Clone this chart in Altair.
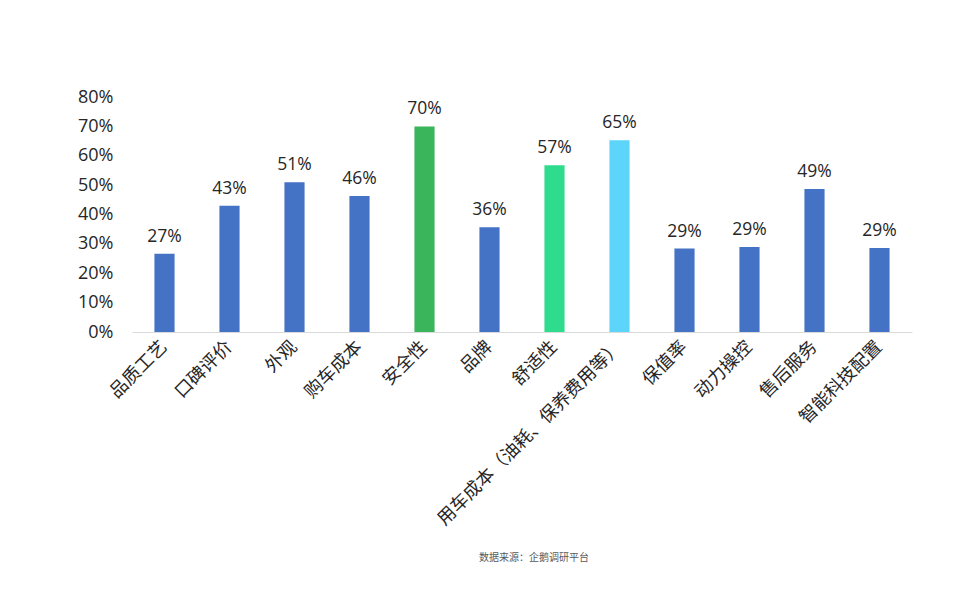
import altair as alt
import pandas as pd

categories = ["品质工艺", "口碑评价", "外观", "购车成本", "安全性", "品牌", "舒适性",
              "用车成本（油耗、保养费用等）", "保值率", "动力操控", "售后服务", "智能科技配置"]
values = [0.266, 0.430, 0.510, 0.463, 0.700, 0.357, 0.568, 0.653, 0.284, 0.289, 0.487, 0.286]
labels = ["27%", "43%", "51%", "46%", "70%", "36%", "57%", "65%", "29%", "29%", "49%", "29%"]
colors = ["#4472C4", "#4472C4", "#4472C4", "#4472C4", "#3BB55B", "#4472C4", "#2FDC8E",
          "#5DD5FA", "#4472C4", "#4472C4", "#4472C4", "#4472C4"]
y_ticks = [0, 0.1, 0.2, 0.3, 0.4, 0.5, 0.6, 0.7, 0.8]
source_text = "数据来源：企鹅调研平台"

df = pd.DataFrame({"cat": categories, "val": values, "label": labels, "color": colors})

FONT = "Open Sans, Noto Sans CJK SC, sans-serif"

x = alt.X("cat:N", sort=categories, title=None,
          scale=alt.Scale(paddingInner=0.69, paddingOuter=0.345),
          axis=alt.Axis(labelAngle=-45, labelAlign="right", labelBaseline="middle",
                        labelFontSize=18, labelFont=FONT, labelColor="#262626",
                        labelPadding=12, ticks=False, domainColor="#D9D9D9",
                        labelLimit=400, labelOverlap=False, grid=False))
y = alt.Y("val:Q", title=None,
          scale=alt.Scale(domain=[0, 0.8], nice=False),
          axis=alt.Axis(format=".0%", values=y_ticks,
                        grid=False, domain=False, ticks=False, labelPadding=19,
                        labelOverlap=False,
                        labelFontSize=18, labelFont=FONT, labelColor="#262626"))

base = alt.Chart(df)
bars = base.mark_bar().encode(x=x, y=y, color=alt.Color("color:N", scale=None))
text = base.mark_text(baseline="bottom", dy=-8, fontSize=17.5, font=FONT, color="#262626").encode(
    x=x, y=y, text="label:N")
src = alt.Chart(pd.DataFrame({"t": [source_text]})).mark_text(
    fontSize=10, font="Noto Sans CJK SC", color="#595959", align="center", baseline="middle"
).encode(x=alt.value(402), y=alt.value(461), text="t:N")

chart = alt.layer(bars, text, src).properties(
    width=780, height=235,
    background="white",
    autosize=alt.AutoSizeParams(type="none"),
    padding={"left": 124, "top": 89, "right": 51, "bottom": 250},
).configure_view(stroke=None).configure_axis(labelOverlap=False, grid=False)

chart.save("out.html", embed_options={"renderer": "svg", "actions": False})
